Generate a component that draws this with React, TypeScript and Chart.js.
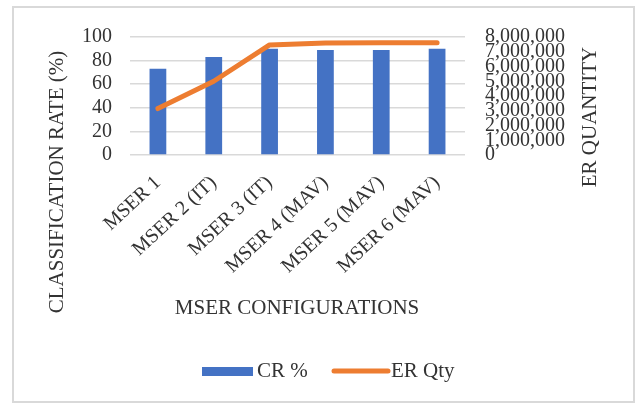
import React, { useEffect, useRef } from "react";
import { Chart, registerables } from "chart.js";

Chart.register(...registerables);

const categories = ["MSER 1", "MSER 2 (IT)", "MSER 3 (IT)", "MSER 4 (MAV)", "MSER 5 (MAV)", "MSER 6 (MAV)"];
const crPercent = [73, 83, 90, 89, 89, 90];
const erQty = [3150000, 5000000, 7460000, 7590000, 7610000, 7610000];
const leftTicks = [0, 20, 40, 60, 80, 100];
const rightTicks = [0, 1000000, 2000000, 3000000, 4000000, 5000000, 6000000, 7000000, 8000000];

const FONT = '"Liberation Serif", "Times New Roman", serif';
const TEXT = "#333333";
const BLUE = "#4472C4";
const ORANGE = "#ED7D31";

const decor = {
  id: "decor",
  beforeDraw(chart: any) {
    const ctx = chart.ctx;
    ctx.save();
    ctx.fillStyle = "#ffffff";
    ctx.fillRect(0, 0, chart.width, chart.height);
    ctx.strokeStyle = "#d9d9d9";
    ctx.lineWidth = 2;
    ctx.strokeRect(13, 7, 621, 395);
    ctx.restore();
  },
  afterDraw(chart: any) {
    const ctx = chart.ctx;
    ctx.save();
    ctx.fillStyle = TEXT;
    ctx.font = `21px ${FONT}`;
    ctx.textAlign = "center";
    ctx.textBaseline = "middle";
    // left axis title
    ctx.save();
    ctx.translate(57, 182);
    ctx.rotate(-Math.PI / 2);
    ctx.fillText("CLASSIFICATION RATE (%)", 0, 0);
    ctx.restore();
    // right axis title
    ctx.save();
    ctx.translate(590, 117);
    ctx.rotate(-Math.PI / 2);
    ctx.fillText("ER QUANTITY", 0, 0);
    ctx.restore();
    // x axis title
    ctx.fillText("MSER CONFIGURATIONS", 297, 308);
    // legend
    ctx.fillStyle = BLUE;
    ctx.fillRect(202, 367, 51, 9);
    ctx.fillStyle = TEXT;
    ctx.textAlign = "left";
    ctx.fillText("CR %", 257, 371);
    ctx.strokeStyle = ORANGE;
    ctx.lineWidth = 5;
    ctx.lineCap = "round";
    ctx.beginPath();
    ctx.moveTo(334, 371);
    ctx.lineTo(388, 371);
    ctx.stroke();
    ctx.fillText("ER Qty", 391, 371);
    ctx.restore();
  },
};

export default function App() {
  const ref = useRef<HTMLCanvasElement | null>(null);
  useEffect(() => {
    document.body.style.margin = "0";
    const canvas = ref.current;
    if (!canvas) return;
    const chart = new Chart(canvas, {
      type: "bar",
      data: {
        labels: categories,
        datasets: [
          {
            type: "line",
            label: "ER Qty",
            data: erQty,
            yAxisID: "y1",
            borderColor: ORANGE,
            backgroundColor: ORANGE,
            borderWidth: 5,
            pointRadius: 0,
            borderCapStyle: "round",
            borderJoinStyle: "round",
            tension: 0,
            order: 0,
          } as any,
          {
            type: "bar",
            label: "CR %",
            data: crPercent,
            yAxisID: "y",
            backgroundColor: BLUE,
            barPercentage: 0.3,
            categoryPercentage: 1,
            order: 1,
          },
        ],
      },
      options: {
        responsive: false,
        animation: false,
        layout: { padding: { top: 37, left: 0, right: 0, bottom: 0 } },
        plugins: { legend: { display: false }, tooltip: { enabled: false } },
        scales: {
          x: {
            grid: { display: false },
            border: { display: false },
            ticks: {
              font: { family: FONT, size: 20 },
              color: TEXT,
              minRotation: 43,
              maxRotation: 43,
              padding: 8,
              autoSkip: false,
            },
            afterFit(scale: any) {
              scale.height = 249;
            },
          },
          y: {
            position: "left",
            min: 0,
            max: 100,
            afterBuildTicks(scale: any) {
              scale.ticks = leftTicks.map((v) => ({ value: v }));
            },
            grid: { color: "#d9d9d9", lineWidth: 1.5, drawTicks: false },
            border: { display: false },
            ticks: {
              font: { family: FONT, size: 20 },
              color: TEXT,
              padding: 18,
              autoSkip: false,
            },
            afterFit(scale: any) {
              scale.width = 130;
            },
          },
          y1: {
            position: "right",
            min: 0,
            max: 8000000,
            afterBuildTicks(scale: any) {
              scale.ticks = rightTicks.map((v) => ({ value: v }));
            },
            grid: { display: false, drawTicks: false },
            border: { display: false },
            ticks: {
              font: { family: FONT, size: 20 },
              color: TEXT,
              padding: 20,
              autoSkip: false,
              callback: (v: any) => Number(v).toLocaleString("en-US"),
            },
            afterFit(scale: any) {
              scale.width = 173;
            },
          },
        },
      },
      plugins: [decor],
    });
    return () => chart.destroy();
  }, []);
  return <canvas ref={ref} width={638} height={404} style={{ display: "block" }} />;
}
